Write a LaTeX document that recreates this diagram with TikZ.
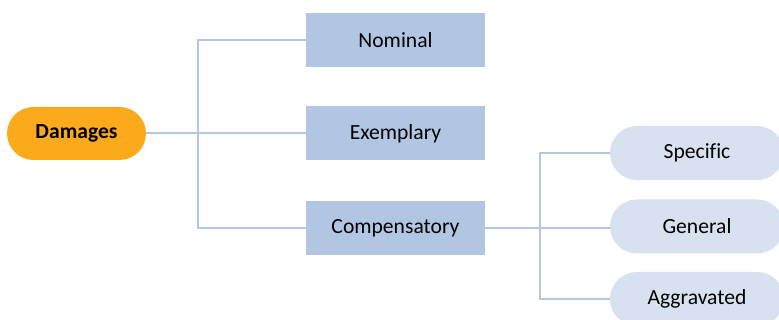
\documentclass[tikz,border=0pt]{standalone}
\usepackage{fontspec}
\setmainfont[Ligatures=NoCommon]{Carlito}
\definecolor{orangeC}{HTML}{FBAA1C}
\definecolor{rectC}{HTML}{B0C6E2}
\definecolor{pillC}{HTML}{D7E1EF}
\definecolor{lineC}{HTML}{B3C7E3}
\begin{document}
\begin{tikzpicture}[x=1pt,y=-1pt,
  conn/.style={draw=lineC,line width=2pt},
  rootbox/.style={fill=orangeC,rounded corners=26.5pt,minimum width=139pt,minimum height=53pt,inner sep=0pt,font=\fontsize{21.6}{24}\selectfont\bfseries},
  midbox/.style={fill=rectC,minimum width=179pt,minimum height=54pt,inner sep=0pt,font=\fontsize{21.6}{24}\selectfont},
  leafbox/.style={fill=pillC,rounded corners=27pt,minimum width=174pt,minimum height=54pt,inner sep=0pt,font=\fontsize{21.6}{24}\selectfont}]
\useasboundingbox (0,0) rectangle (779,320);
\clip (0,0) rectangle (779,320);
\fill[white] (0,0) rectangle (779,320);
\coordinate (j1) at (198,133.5);
\coordinate (j2) at (540,228);
\node[rootbox] (dam) at (76.5,133.5) {Damages};
\node[midbox] (nom) at (395.5,40) {Nominal};
\node[midbox] (exe) at (395.5,133.5) {Exemplary};
\node[midbox] (com) at (395.5,228.5) {Compensatory};
\node[leafbox] (spe) at (697,153) {Specific};
\node[leafbox] (gen) at (697,226.5) {General};
\node[leafbox] (agg) at (697,299) {Aggravated};
\draw[conn] (dam.east) -- (exe.west);
\draw[conn] (nom.west) -| (j1) |- (com.west);
\draw[conn] (com.east) -- (com.east -| gen.west);
\draw[conn] (spe.west) -| (j2) |- (agg.west);
\end{tikzpicture}
\end{document}
